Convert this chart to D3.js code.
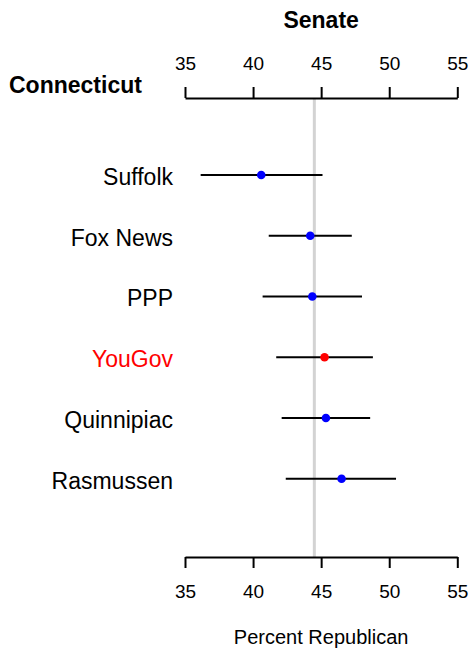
<!DOCTYPE html>
<html>
<head>
<meta charset="utf-8">
<title>Connecticut Senate polls</title>
<script src="https://d3js.org/d3.v7.min.js"></script>
<style>
	body {
		margin: 0;
		font-family: "Liberation Sans", Arial, sans-serif;
		background: #fff;
	}

	.axis path, .axis line {
		stroke: #000;
		stroke-width: 2px;
	}

	.axis text {
		font-family: "Liberation Sans", Arial, sans-serif;
		font-size: 19px;
		fill: #000;
	}
</style>
</head>
<body>
<script>
	var width = 474,
			height = 650;

	// poll estimates
	var pollsters = ["Suffolk", "Fox News", "PPP", "YouGov", "Quinnipiac", "Rasmussen"];
	var estimate = [40.6, 44.2, 44.35, 45.25, 45.35, 46.5];
	var lower = [36.15, 41.15, 40.7, 41.7, 42.1, 42.4];
	var upper = [45.1, 47.25, 48.0, 48.8, 48.6, 50.5];
	var tickValues = [35, 40, 45, 50, 55];
	var average = 44.5;
	var highlight = "YouGov";

	var data = pollsters.map(function(name, i) {
		return { name: name, est: estimate[i], lo: lower[i], hi: upper[i] };
	});

	var svg = d3.select("body").append("svg")
			.attr("width", width)
			.attr("height", height);

	var x = d3.scaleLinear()
			.domain([35, 55])
			.range([185, 457.3]);

	var y = d3.scalePoint()
			.domain(pollsters)
			.range([175, 478.7]);

	var topY = 98,
			bottomY = 557;

	// average line
	svg.append("line")
			.attr("x1", x(average))
			.attr("x2", x(average))
			.attr("y1", topY)
			.attr("y2", bottomY)
			.attr("stroke", "#d3d3d3")
			.attr("stroke-width", 3);

	// axes
	svg.append("g")
			.attr("class", "axis")
			.attr("transform", "translate(0," + topY + ")")
			.call(d3.axisTop(x).tickValues(tickValues).tickSize(11).tickSizeOuter(0).tickPadding(17))
			.selectAll("text").attr("dy", "0em");

	svg.append("g")
			.attr("class", "axis")
			.attr("transform", "translate(0," + bottomY + ")")
			.call(d3.axisBottom(x).tickValues(tickValues).tickSize(11).tickSizeOuter(0).tickPadding(17));

	// error bars
	svg.append("g").selectAll("line")
			.data(data)
		.enter().append("line")
			.attr("x1", function(d) { return x(d.lo); })
			.attr("x2", function(d) { return x(d.hi); })
			.attr("y1", function(d) { return y(d.name); })
			.attr("y2", function(d) { return y(d.name); })
			.attr("stroke", "#000")
			.attr("stroke-width", 2);

	// points
	svg.append("g").selectAll("circle")
			.data(data)
		.enter().append("circle")
			.attr("cx", function(d) { return x(d.est); })
			.attr("cy", function(d) { return y(d.name); })
			.attr("r", 4.3)
			.attr("fill", function(d) { return d.name === highlight ? "#ff0000" : "#0000ff"; });

	// pollster labels
	svg.append("g").selectAll("text")
			.data(data)
		.enter().append("text")
			.attr("x", 173)
			.attr("y", function(d) { return y(d.name); })
			.attr("dy", "0.43em")
			.attr("text-anchor", "end")
			.style("font-size", "23px")
			.style("fill", function(d) { return d.name === highlight ? "#ff0000" : "#000"; })
			.text(function(d) { return d.name; });

	// titles
	svg.append("text")
			.attr("x", (x.range()[0] + x.range()[1]) / 2)
			.attr("y", 28)
			.attr("text-anchor", "middle")
			.style("font-size", "23px")
			.style("font-weight", "bold")
			.text("Senate");

	svg.append("text")
			.attr("x", 9)
			.attr("y", 93)
			.style("font-size", "23px")
			.style("font-weight", "bold")
			.text("Connecticut");

	svg.append("text")
			.attr("x", (x.range()[0] + x.range()[1]) / 2)
			.attr("y", 644)
			.attr("text-anchor", "middle")
			.style("font-size", "20px")
			.text("Percent Republican");
</script>
</body>
</html>
